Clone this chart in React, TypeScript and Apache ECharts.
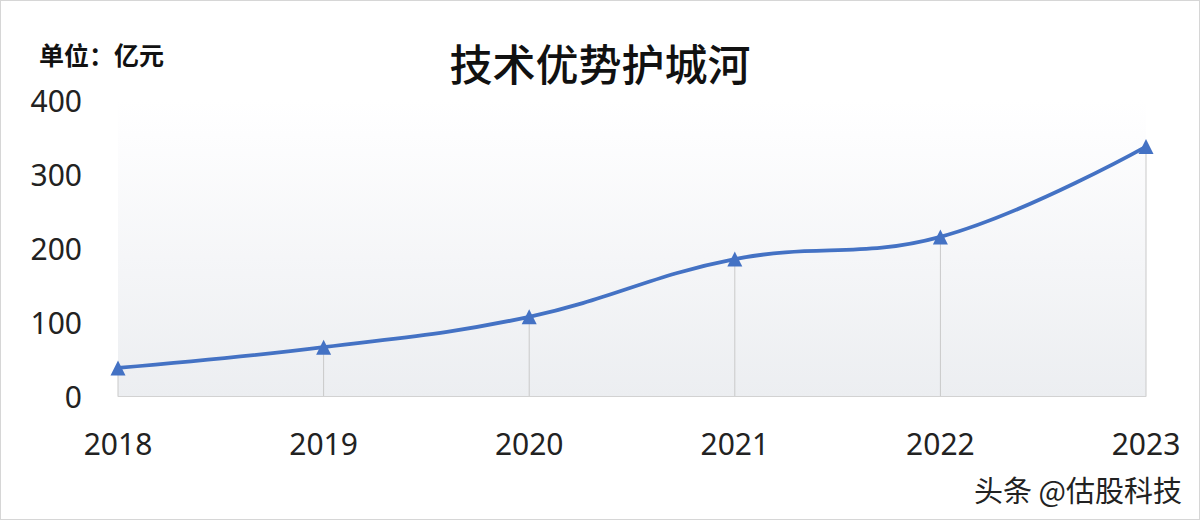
import React, {useEffect, useRef} from 'react';
import * as echarts from 'echarts';

const years = ['2018', '2019', '2020', '2021', '2022', '2023'];
const revenue = [38, 66, 107, 185, 215, 337];
const yTicks = {min: 0, max: 400, interval: 100};

const LINE_BLUE = '#4472c4';

const App = () => {
    const ref = useRef<HTMLDivElement>(null);

    useEffect(() => {
        document.body.style.margin = '0';
        const chart = echarts.init(ref.current as HTMLDivElement, undefined, {renderer: 'svg'});
        chart.setOption({
            animation: false,
            backgroundColor: '#fff',
            title: [
                {
                    text: '技术优势护城河',
                    left: 'center',
                    top: 34,
                    textStyle: {
                        fontFamily: 'Noto Sans CJK SC',
                        fontSize: 43,
                        fontWeight: 500,
                        color: '#111'
                    }
                },
                {
                    text: '单位：亿元',
                    left: 33,
                    top: 35,
                    textStyle: {
                        fontFamily: 'Noto Sans CJK SC',
                        fontSize: 25,
                        fontWeight: 'bold',
                        color: '#111'
                    }
                }
            ],
            grid: {
                left: 117,
                right: 53,
                top: 99,
                bottom: 123,
                show: true,
                borderWidth: 0,
                backgroundColor: new echarts.graphic.LinearGradient(0, 0, 0, 1, [
                    {offset: 0, color: '#ffffff'},
                    {offset: 0.12, color: '#fdfdfe'},
                    {offset: 1, color: '#eceef1'}
                ])
            },
            xAxis: {
                type: 'category',
                data: years,
                boundaryGap: false,
                axisLine: {lineStyle: {color: '#d2d2d2', width: 1}},
                axisTick: {show: false},
                splitLine: {show: false},
                axisLabel: {
                    margin: 32,
                    fontFamily: 'Noto Sans',
                    fontSize: 30,
                    color: '#222'
                }
            },
            yAxis: {
                type: 'value',
                ...yTicks,
                axisLine: {show: false},
                axisTick: {show: false},
                splitLine: {show: false},
                axisLabel: {
                    margin: 36,
                    fontFamily: 'Noto Sans',
                    fontSize: 30,
                    color: '#222'
                }
            },
            series: [
                {
                    // thin drop lines from each point down to the axis
                    type: 'bar',
                    data: revenue,
                    barWidth: 1,
                    itemStyle: {color: '#c9c9c9'},
                    silent: true,
                    z: 1
                },
                {
                    type: 'line',
                    data: revenue,
                    smooth: 0.4,
                    symbol: 'triangle',
                    symbolSize: 15,
                    lineStyle: {color: LINE_BLUE, width: 3.8},
                    itemStyle: {color: LINE_BLUE},
                    z: 3
                }
            ],
            graphic: [
                {
                    type: 'text',
                    right: 16,
                    top: 472,
                    style: {
                        text: '头条 @估股科技',
                        fontFamily: 'Noto Sans CJK SC',
                        fontSize: 29,
                        fill: '#222',
                        stroke: '#fff',
                        lineWidth: 2
                    }
                }
            ]
        });
        return () => chart.dispose();
    }, []);

    return (
        <div
            ref={ref}
            style={{width: 1200, height: 520, boxSizing: 'border-box', border: '1px solid #d6d6d6'}}
        ></div>
    );
};

export default App;
